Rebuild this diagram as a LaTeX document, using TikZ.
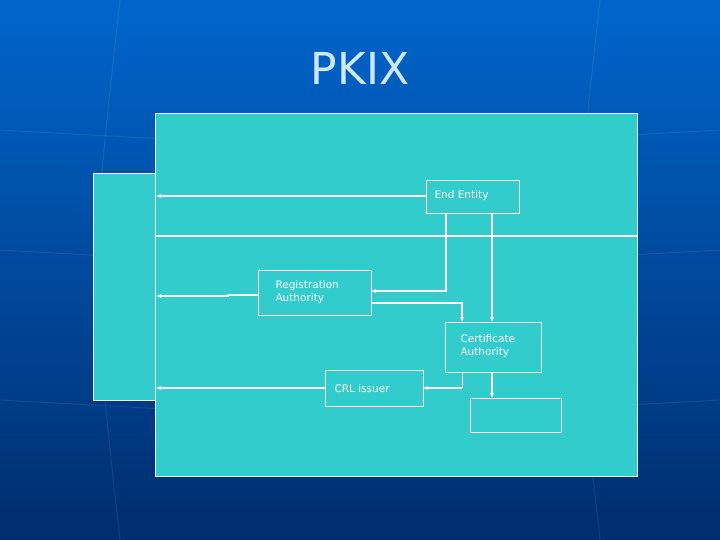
\documentclass[tikz,border=0pt]{standalone}
\usepackage{fontspec}
\setmainfont{DejaVu Sans}
\usetikzlibrary{arrows.meta}
\definecolor{teal1}{RGB}{51,204,204}
\definecolor{bgtop}{RGB}{0,102,204}
\definecolor{bgbot}{RGB}{0,45,110}
\begin{document}
\begin{tikzpicture}[x=1pt,y=-1pt,
  box/.style={draw=white,line width=0.6pt},
  lbl/.style={text=white,font=\fontsize{10.5}{12.5}\selectfont,align=left,anchor=west},
  conn/.style={draw=white,line width=1.3pt,-{Latex[length=5pt,width=4.5pt]}},
  plain/.style={draw=white,line width=1.3pt}]
\useasboundingbox (0,0) rectangle (720,540);
\shade[top color=bgtop,bottom color=bgbot] (0,0) rectangle (720,540);
\foreach \yy in {130,250,400} \draw[white,opacity=0.08,line width=1pt] (0,\yy) .. controls (360,\yy+20) .. (720,\yy);
\foreach \xx in {120,600} \draw[white,opacity=0.08,line width=1pt] (\xx,0) .. controls (\xx-30,270) .. (\xx,540);
\node (title) [text={rgb,255:red,205;green,232;blue,255},font=\fontsize{44}{50}\selectfont] at (360,68) {PKIX};
% panels
\path[box,fill=teal1] (93,173) rectangle (155,400);
\path[box,fill=teal1] (155,113) rectangle (637,476);
\draw[white,line width=2.5pt] (155,236) -- (637,236);
% boxes
\path[box] (426,180) rectangle (519,213);
\node[lbl] (eet) at (431,196) {End Entity};
\path[box] (258,270) rectangle (371,315);
\node[lbl] (rat) at (272,292) {Registration\\Authority};
\path[box] (445,322) rectangle (541,372);
\node[lbl] (cat) at (457,346) {Certificate\\Authority};
\path[box] (325,370) rectangle (423,406);
\node[lbl] (crlt) at (331,389) {CRL issuer};
\path[box] (470,398) rectangle (561,432);
% coordinates
\coordinate (eeL) at (426,196); \coordinate (t1) at (156,196);
\coordinate (eeB1) at (446,213); \coordinate (k1) at (446,291); \coordinate (raR1) at (371,291);
\coordinate (raR2) at (371,303); \coordinate (k2) at (462,303); \coordinate (caT1) at (462,322);
\coordinate (eeB2) at (492,213); \coordinate (caT2) at (492,322);
\coordinate (raL) at (258,295); \coordinate (s1) at (228,295); \coordinate (s2) at (228,296); \coordinate (t2) at (156,296);
\coordinate (caB1) at (462,372); \coordinate (k3) at (462,388); \coordinate (crlR) at (423,388);
\coordinate (caB2) at (492,372); \coordinate (ebT) at (492,398);
\coordinate (crlL) at (325,388); \coordinate (t3) at (156,388);
\draw[conn] (eeL) -- (t1);
\draw[conn] (eeB1) -- (k1) -- (raR1);
\draw[conn] (raR2) -- (k2) -- (caT1);
\draw[conn] (eeB2) -- (caT2);
\draw[conn] (raL) -- (s1) -- (s2) -- (t2);
\draw[white,line width=0.6pt] (caB1) -- (k3);
\draw[conn] (k3) -- (crlR);
\draw[conn] (caB2) -- (ebT);
\draw[conn] (crlL) -- (t3);
\end{tikzpicture}
\end{document}
